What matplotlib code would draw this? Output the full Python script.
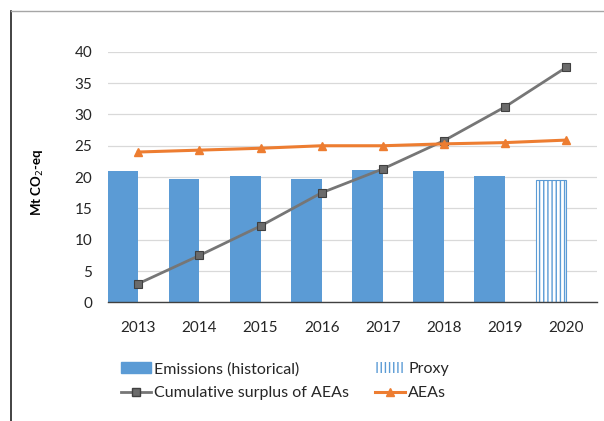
import matplotlib
matplotlib.use("Agg")
import matplotlib.pyplot as plt
from matplotlib.lines import Line2D
from matplotlib.patches import Patch
import numpy as np

# Data (Mt CO2-eq)
years = ["2013", "2014", "2015", "2016", "2017", "2018", "2019", "2020"]
emissions = [21.0, 19.7, 20.1, 19.7, 21.2, 21.0, 20.1, None]
proxy = [None, None, None, None, None, None, None, 19.5]
cumulative_surplus = [3.0, 7.5, 12.2, 17.5, 21.3, 25.8, 31.2, 37.5]
aeas = [24.0, 24.3, 24.6, 25.0, 25.0, 25.3, 25.5, 25.9]

BLUE = "#5B9BD5"
GREY = "#767676"
ORANGE = "#ED7D31"
TEXT = "#262626"

plt.rcParams["font.family"] = ["Lato", "DejaVu Sans"]
plt.rcParams["hatch.linewidth"] = 1.0

fig = plt.figure(figsize=(6.04, 4.21), dpi=100)
ax = fig.add_axes([0.1783, 0.2815, 0.8097, 0.5957])

x = np.arange(len(years))

# bars sit in the left half of each category slot
for i in range(len(years)):
    if emissions[i] is not None:
        ax.bar(x[i] - 0.5, emissions[i], width=0.5, align="edge",
               color=BLUE, zorder=2)
    if proxy[i] is not None:
        ax.bar(x[i] - 0.5, proxy[i], width=0.5, align="edge",
               facecolor="white", edgecolor=BLUE, hatch="||||",
               linewidth=0.8, zorder=2)

ax.plot(x, cumulative_surplus, color=GREY, linewidth=2.0, marker="s",
        markersize=6, markerfacecolor="#6b6b6b", markeredgecolor="#404040",
        markeredgewidth=0.8, zorder=3, clip_on=False)
ax.plot(x, aeas, color=ORANGE, linewidth=2.2, marker="^", markersize=6,
        markerfacecolor=ORANGE, markeredgecolor=ORANGE, zorder=4,
        clip_on=False)

ax.set_xlim(-0.5, len(years) - 0.5)
ax.set_ylim(0, 40)
ax.set_yticks(range(0, 41, 5))
ax.set_xticks(x)
ax.set_xticklabels(years)
ax.tick_params(axis="both", length=0, labelsize=11, colors=TEXT)
ax.tick_params(axis="x", pad=13)
ax.tick_params(axis="y", pad=11)

ax.grid(axis="y", color="#D9D9D9", linewidth=0.9, zorder=0)
ax.set_axisbelow(True)
for side in ["top", "right", "left"]:
    ax.spines[side].set_visible(False)
ax.spines["bottom"].set_color("#404040")
ax.spines["bottom"].set_linewidth(1.0)
ax.spines["bottom"].set_zorder(5)

fig.text(0.063, 0.568, "Mt CO$_2$-eq", rotation=90, ha="center",
         va="center", fontsize=9.5, fontweight="bold", color="black")

handles = [
    Patch(facecolor=BLUE, edgecolor=BLUE),
    Line2D([], [], color=GREY, linewidth=2.0, marker="s", markersize=6,
           markerfacecolor="#6b6b6b", markeredgecolor="#404040"),
    Patch(facecolor="white", edgecolor=BLUE, hatch="||||", linewidth=0),
    Line2D([], [], color=ORANGE, linewidth=2.2, marker="^", markersize=6),
]
labels = ["Emissions (historical)", "Cumulative surplus of AEAs", "Proxy", "AEAs"]
fig.legend(handles, labels, ncol=2, loc="upper left",
           bbox_to_anchor=(0.2, 0.14), frameon=False, fontsize=11.5,
           handlelength=1.9, handletextpad=0.2, columnspacing=1.6,
           labelspacing=0.62, borderaxespad=0, borderpad=0,
           labelcolor=TEXT)

# chart frame
fig.add_artist(Line2D([11 / 604, 11 / 604], [0, 1 - 11 / 421],
                      transform=fig.transFigure, color="#222222", linewidth=1.2))
fig.add_artist(Line2D([11 / 604, 1], [1 - 11 / 421, 1 - 11 / 421],
                      transform=fig.transFigure, color="#A6A6A6", linewidth=1.0))

fig.savefig("out.png", dpi=100)
